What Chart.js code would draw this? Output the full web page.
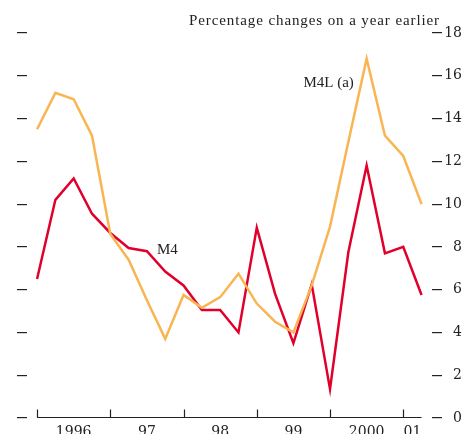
<!DOCTYPE html>
<html>
<head>
<meta charset="utf-8">
<script src="https://cdn.jsdelivr.net/npm/chart.js@4/dist/chart.umd.min.js"></script>
<style>
  html, body { margin: 0; padding: 0; background: #fff; }
  #chart { display: block; }
</style>
</head>
<body>
<canvas id="chart" width="464" height="434"></canvas>
<script>
// quarterly observations, 1996 Q1 .. 2001 Q2 (index 0..21)
const quarters = [0, 1, 2, 3, 4, 5, 6, 7, 8, 9, 10, 11, 12, 13, 14, 15, 16, 17, 18, 19, 20, 21];
const m4 = [6.5, 10.2, 11.2, 9.55, 8.65, 7.95, 7.8, 6.85, 6.2, 5.05, 5.05, 4.0,
            8.9, 5.8, 3.5, 6.25, 1.35, 7.75, 11.8, 7.7, 8.0, 5.75];
const m4l = [13.5, 15.2, 14.9, 13.2, 8.6, 7.4, 5.5, 3.7, 5.75, 5.15, 5.65, 6.75,
             5.35, 4.5, 4.0, 6.2, 8.95, 12.9, 16.8, 13.2, 12.25, 10.0];
const yearLabels = ["1996", "97", "98", "99", "2000", "01"];
const yearLabelPos = [2, 6, 10, 14, 18, 20.5];
const yearBounds = [0, 4, 8, 12, 16, 20];
const yTicks = [0, 2, 4, 6, 8, 10, 12, 14, 16, 18];

const serif = "'Liberation Serif', 'DejaVu Serif', serif";
const tickSerif = "'DejaVu Serif', serif";

const extras = {
  id: "extras",
  afterDraw(chart) {
    const { ctx, chartArea } = chart;
    const x = chart.scales.x;
    const y = chart.scales.y;
    ctx.save();
    ctx.strokeStyle = "#222";
    ctx.lineWidth = 1.2;
    // x axis line with inward year marks
    const yb = chartArea.bottom - 0.5;
    ctx.beginPath();
    ctx.moveTo(x.getPixelForValue(0), yb);
    ctx.lineTo(x.getPixelForValue(21), yb);
    yearBounds.forEach(v => {
      const px = Math.round(x.getPixelForValue(v)) + 0.5;
      ctx.moveTo(px, yb);
      ctx.lineTo(px, yb - 8);
    });
    ctx.stroke();

    ctx.fillStyle = "#222";
    ctx.font = "15px " + serif;
    ctx.textBaseline = "alphabetic";
    ctx.textAlign = "right";
    ctx.letterSpacing = "0.9px";
    ctx.fillText("Percentage changes on a year earlier", chartArea.right + 8, chartArea.top - 8);
    ctx.letterSpacing = "0px";
    ctx.fillText("M4L (a)", x.getPixelForValue(17.3), y.getPixelForValue(15.47));
    ctx.textAlign = "left";
    ctx.fillText("M4", x.getPixelForValue(6.55), y.getPixelForValue(7.67));
    ctx.restore();
  }
};

new Chart(document.getElementById("chart"), {
  type: "line",
  data: {
    datasets: [
      {
        label: "M4",
        data: quarters.map((q, i) => ({ x: q, y: m4[i] })),
        borderColor: "#E0002B",
        borderWidth: 2.5,
        pointRadius: 0,
        tension: 0,
        order: 1
      },
      {
        label: "M4L (a)",
        data: quarters.map((q, i) => ({ x: q, y: m4l[i] })),
        borderColor: "#F9B552",
        borderWidth: 2.5,
        pointRadius: 0,
        tension: 0,
        order: 0
      }
    ]
  },
  options: {
    responsive: false,
    animation: false,
    layout: { padding: { top: 33, left: 0, right: 2, bottom: 0 } },
    plugins: { legend: { display: false }, tooltip: { enabled: false } },
    scales: {
      x: {
        type: "linear",
        min: -0.55,
        max: 21.57,
        grid: { display: false, drawTicks: false },
        border: { display: false },
        afterBuildTicks(scale) {
          scale.ticks = yearLabelPos.map(v => ({ value: v }));
        },
        afterFit(scale) { scale.height = 16; },
        ticks: {
          padding: 6,
          maxRotation: 0,
          autoSkip: false,
          color: "#222",
          font: { family: tickSerif, size: 14 },
          callback: (v) => yearLabels[yearLabelPos.indexOf(v)]
        }
      },
      yl: {
        position: "left",
        min: 0,
        max: 18,
        afterBuildTicks(scale) {
          scale.ticks = yTicks.map(v => ({ value: v }));
        },
        afterFit(scale) { scale.width = 27; },
        grid: { drawOnChartArea: false, tickLength: 10, tickColor: "#222", lineWidth: 1.2 },
        border: { display: false },
        ticks: { callback: () => "", padding: 0 }
      },
      y: {
        position: "right",
        min: 0,
        max: 18,
        afterBuildTicks(scale) {
          scale.ticks = yTicks.map(v => ({ value: v }));
        },
        afterFit(scale) { scale.width = 30; },
        grid: { drawOnChartArea: false, tickLength: 10, tickColor: "#222", lineWidth: 1.2 },
        border: { display: false },
        ticks: {
          crossAlign: "far",
          padding: 2,
          color: "#222",
          font: { family: tickSerif, size: 14 }
        }
      }
    }
  },
  plugins: [extras]
});
</script>
</body>
</html>
